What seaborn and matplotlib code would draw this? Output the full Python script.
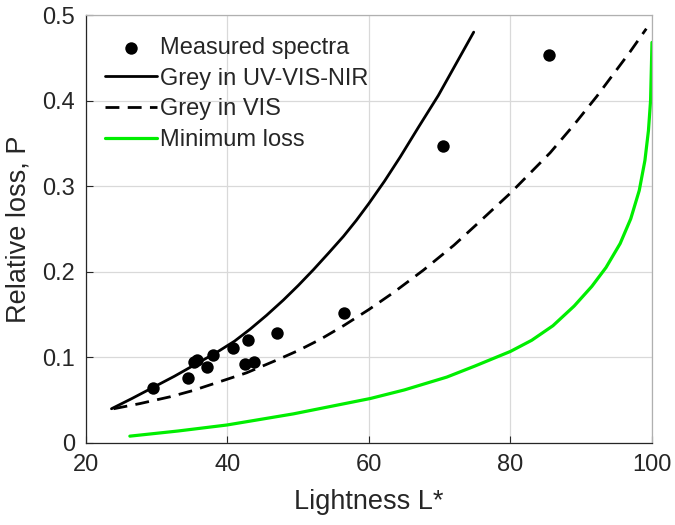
import numpy as np
import pandas as pd
import matplotlib
matplotlib.use('Agg')
import matplotlib.pyplot as plt
import seaborn as sns

# measured points
meas_L = [29.5, 34.4, 35.2, 35.7, 37.1, 38.0, 40.8, 42.9, 42.5, 43.7, 47.0, 56.4, 70.5, 85.5]
meas_P = [0.064, 0.076, 0.095, 0.097, 0.089, 0.103, 0.111, 0.120, 0.092, 0.095, 0.129, 0.152, 0.347, 0.453]

# grey in UV-VIS-NIR
uv_L = [23.6, 26.5, 29.5, 32.5, 35.5, 38.5, 41.0, 43.2, 45.5, 47.9, 50.0, 52.15, 54.3,
        56.4, 58.2, 60.0, 62.2, 64.4, 67.0, 69.8, 72.3, 74.8]
uv_P = [0.040, 0.052, 0.065, 0.078, 0.092, 0.106, 0.119, 0.133, 0.149, 0.167, 0.184, 0.2025, 0.222,
        0.2415, 0.260, 0.280, 0.306, 0.334, 0.369, 0.406, 0.443, 0.480]

# grey in VIS
vis_L = [23.9, 27.6, 31.9, 35.0, 38.5, 42.7, 47.0, 50.0, 53.1, 56.4, 60.0, 63.5, 67.7,
         72.0, 75.3, 80.0, 85.6, 89.0, 92.2, 96.9, 99.2]
vis_P = [0.040, 0.046, 0.054, 0.061, 0.0705, 0.082, 0.097, 0.108, 0.121, 0.137, 0.156, 0.176, 0.202,
         0.231, 0.256, 0.292, 0.339, 0.372, 0.405, 0.457, 0.484]

# minimum loss
min_L = [26.2, 33.0, 39.9, 49.3, 60.2, 65.0, 71.0, 75.0, 80.0, 83.0, 86.0, 89.0, 91.5,
         93.5, 95.5, 97.0, 98.2, 99.0, 99.5, 99.8, 100.0]
min_P = [0.008, 0.014, 0.021, 0.034, 0.052, 0.062, 0.077, 0.090, 0.107, 0.120, 0.137, 0.160, 0.183,
         0.205, 0.233, 0.262, 0.295, 0.330, 0.365, 0.400, 0.468]

sns.set_style('whitegrid')
plt.rcParams['font.family'] = ['Liberation Sans', 'DejaVu Sans']

fig = plt.figure(figsize=(6.75, 5.25), dpi=100)
ax = fig.add_axes([0.1274, 0.1562, 0.8385, 0.8152])

sns.scatterplot(x=meas_L, y=meas_P, ax=ax, color='black', s=80, edgecolor='black',
                linewidth=0, label='Measured spectra', zorder=5)
sns.lineplot(x=uv_L, y=uv_P, ax=ax, color='black', lw=2, sort=False,
             label='Grey in UV-VIS-NIR')
sns.lineplot(x=vis_L, y=vis_P, ax=ax, color='black', lw=2, sort=False,
             label='Grey in VIS')
ax.lines[-1].set_dashes((5, 3))
sns.lineplot(x=min_L, y=min_P, ax=ax, color='#00ee00', lw=2.3, sort=False,
             label='Minimum loss')

ax.set_xlim(20, 100)
ax.set_ylim(0, 0.5)
ax.set_xticks([20, 40, 60, 80, 100])
ax.set_yticks([0, 0.1, 0.2, 0.3, 0.4, 0.5])
ax.set_yticklabels(['0', '0.1', '0.2', '0.3', '0.4', '0.5'])
ax.grid(True, color='#d9d9d9', lw=0.9)
for s in ax.spines.values():
    s.set_color('#b0b0b0')
    s.set_linewidth(0.9)
ax.spines['bottom'].set_color('#262626')
ax.spines['left'].set_color('#262626')
ax.tick_params(direction='in', length=5, colors='#262626', labelsize=17, pad=8,
               bottom=True, left=True)
ax.set_xlabel('Lightness L*', fontsize=19.5, color='#262626', labelpad=9)
ax.set_ylabel('Relative loss, P', fontsize=19.5, color='#262626', labelpad=8)

leg = ax.legend(loc='upper left', frameon=False, fontsize=17, handlelength=2.2,
                handletextpad=0.15, labelspacing=0.37, borderaxespad=0, borderpad=0,
                bbox_to_anchor=(0.0336, 0.949))
for t in leg.get_texts():
    t.set_color('#262626')

fig.savefig('out.png', dpi=100)
